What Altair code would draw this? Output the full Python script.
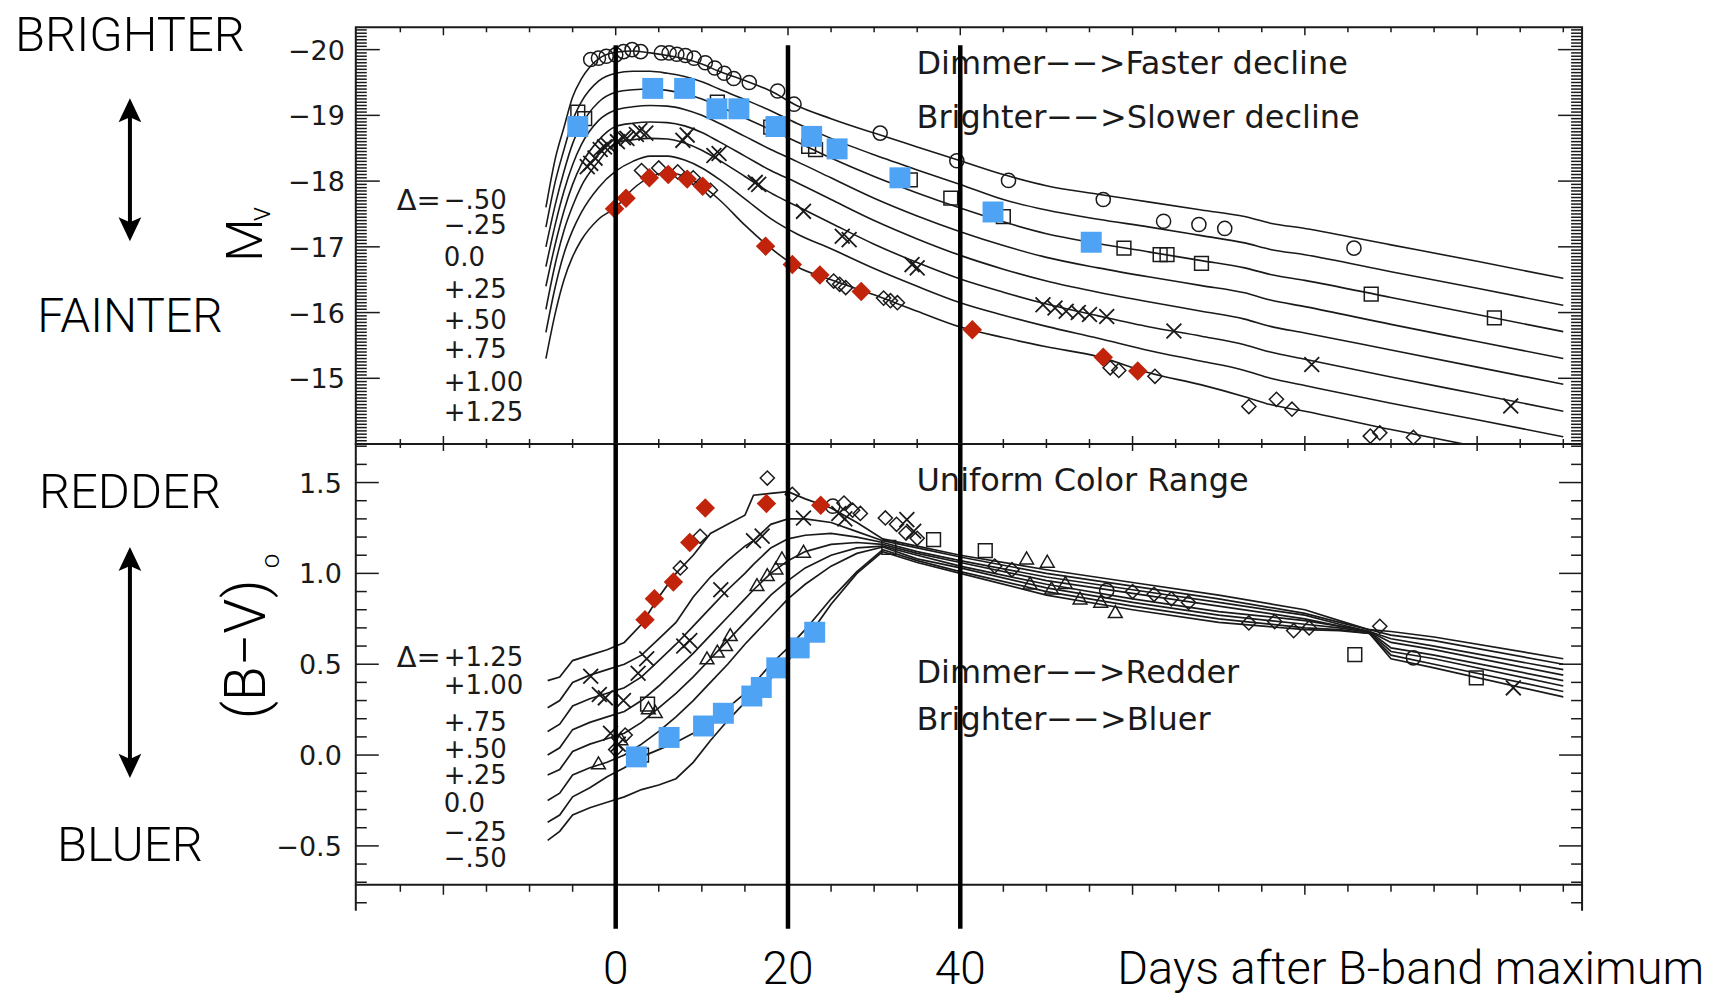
import altair as alt
import numpy as np
import pandas as pd

# ------------------------------------------------------------------ data
# Upper panel: V-band template light curves M_V(t), one per Delta
UP_DAYS = [-8.1, -7, -6, -5, -4, -2, 0, 2, 4, 6, 8, 10, 12, 15, 18, 21, 25, 30, 35, 40,
           45, 50, 56, 62, 68, 73, 76, 80, 90, 100, 110]
UP_M_DM050 = [-17.6, -18.35, -18.82, -19.28, -19.55, -19.86, -19.96, -19.98, -19.95, -19.91,
              -19.86, -19.78, -19.67, -19.53, -19.37, -19.15, -18.95, -18.73, -18.52, -18.31,
              -18.1, -17.93, -17.8, -17.68, -17.56, -17.46, -17.36, -17.28, -17.03, -16.78, -16.52]
UP_M_DM025 = [-17.3, -18.0, -18.48, -18.92, -19.2, -19.52, -19.64, -19.67, -19.67, -19.64,
              -19.59, -19.51, -19.4, -19.24, -19.07, -18.88, -18.65, -18.4, -18.17, -17.95,
              -17.72, -17.56, -17.42, -17.3, -17.17, -17.06, -16.96, -16.88, -16.62, -16.37, -16.11]
UP_M_D000 = [-17.0, -17.65, -18.15, -18.57, -18.85, -19.2, -19.35, -19.39, -19.4, -19.38,
             -19.33, -19.25, -19.14, -18.96, -18.78, -18.6, -18.35, -18.07, -17.82, -17.59,
             -17.38, -17.2, -17.05, -16.92, -16.79, -16.68, -16.58, -16.49, -16.23, -15.97, -15.71]
UP_M_DP025 = [-16.7, -17.35, -17.85, -18.25, -18.55, -18.92, -19.08, -19.13, -19.15, -19.14,
              -19.09, -19.0, -18.88, -18.68, -18.48, -18.3, -18.05, -17.74, -17.47, -17.23,
              -17.02, -16.84, -16.68, -16.54, -16.41, -16.3, -16.19, -16.09, -15.82, -15.56, -15.3]
UP_M_DP050 = [-16.4, -17.05, -17.55, -17.95, -18.25, -18.62, -18.83, -18.88, -18.9, -18.89,
              -18.84, -18.74, -18.6, -18.38, -18.16, -17.98, -17.72, -17.4, -17.12, -16.87,
              -16.66, -16.48, -16.31, -16.16, -16.02, -15.9, -15.79, -15.69, -15.43, -15.17, -14.91]
UP_M_DP075 = [-16.05, -16.75, -17.25, -17.62, -17.92, -18.3, -18.58, -18.63, -18.65, -18.64,
              -18.58, -18.47, -18.32, -18.07, -17.82, -17.62, -17.36, -17.04, -16.76, -16.51,
              -16.31, -16.13, -15.95, -15.78, -15.64, -15.51, -15.4, -15.29, -15.02, -14.76, -14.5]
UP_M_DP100 = [-15.7, -16.4, -16.9, -17.25, -17.52, -17.9, -18.15, -18.3, -18.38, -18.38,
              -18.32, -18.2, -18.03, -17.73, -17.43, -17.2, -16.97, -16.67, -16.4, -16.15,
              -15.96, -15.79, -15.61, -15.42, -15.26, -15.12, -15.0, -14.89, -14.62, -14.37, -14.11]
UP_M_DP125 = [-15.3, -16.0, -16.5, -16.85, -17.1, -17.42, -17.6, -17.88, -18.06, -18.13,
              -18.07, -17.93, -17.72, -17.33, -16.98, -16.7, -16.5, -16.27, -16.02, -15.78,
              -15.62, -15.48, -15.33, -15.08, -14.9, -14.72, -14.6, -14.5, -14.22, -13.96, -13.71]

UP_CIRC_D = [-2.9, -2.0, -1.1, 0.0, 0.9, 1.9, 2.9, 5.3, 6.2, 7.1, 8.1, 9.1, 10.4, 11.5, 12.6,
             13.7, 15.5, 18.8, 20.7, 30.7, 39.6, 45.6, 56.6, 63.6, 67.7, 70.7, 85.7]
UP_CIRC_M = [-19.85, -19.87, -19.9, -19.92, -19.97, -20.0, -19.97, -19.95, -19.95, -19.93, -19.91,
             -19.87, -19.8, -19.72, -19.64, -19.56, -19.5, -19.37, -19.17, -18.73, -18.31, -18.01,
             -17.72, -17.39, -17.34, -17.28, -16.98]
UP_SQ_D = [-4.4, -3.6, 4.2, 8.2, 11.8, 14.5, 18.0, 22.4, 23.2, 34.2, 38.9, 45.0, 55.1, 59.0,
           63.2, 64.0, 68.0, 87.7, 102.0]
UP_SQ_M = [-19.05, -18.95, -19.45, -19.45, -19.2, -19.12, -18.82, -18.53, -18.48, -18.02,
           -17.74, -17.46, -17.09, -16.98, -16.88, -16.88, -16.75, -16.28, -15.92]
UP_X_D = [-3.3, -2.9, -2.4, -1.8, -1.3, -0.9, 0.2, 0.9, 1.3, 2.4, 2.8, 3.5, 7.8, 8.3, 11.4,
          12.0, 16.2, 16.6, 21.8, 26.3, 27.1, 34.4, 35.0, 49.6, 51.0, 52.3, 53.7, 55.0, 57.0,
          64.8, 80.8, 103.9]
UP_X_M = [-18.22, -18.27, -18.35, -18.48, -18.52, -18.55, -18.6, -18.66, -18.65, -18.71,
          -18.77, -18.73, -18.62, -18.7, -18.39, -18.42, -17.98, -17.95, -17.54, -17.16,
          -17.11, -16.73, -16.68, -16.12, -16.07, -16.02, -16.0, -15.97, -15.94, -15.72,
          -15.21, -14.58]
UP_DIA_D = [3.0, 5.0, 7.2, 9.0, 11.0, 25.3, 26.0, 26.7, 31.1, 31.9, 32.7, 57.4, 58.4, 62.6,
            73.5, 76.7, 78.5, 87.6, 88.7, 92.6]
UP_DIA_M = [-18.16, -18.2, -18.14, -18.05, -17.86, -16.48, -16.43, -16.38, -16.22, -16.18,
            -16.15, -15.16, -15.12, -15.03, -14.57, -14.68, -14.53, -14.12, -14.17, -14.1]
UP_BLUE_D = [-4.4, 4.3, 8.0, 11.75, 14.3, 18.6, 22.75, 25.7, 33.0, 43.8, 55.2]
UP_BLUE_M = [-18.83, -19.41, -19.41, -19.1, -19.1, -18.83, -18.68, -18.49, -18.05, -17.53, -17.07]
UP_RED_D = [-0.13, 1.2, 3.9, 6.1, 8.3, 10.1, 17.4, 20.5, 23.7, 28.5, 41.4, 56.6, 60.6]
UP_RED_M = [-17.58, -17.74, -18.05, -18.1, -18.03, -17.92, -17.01, -16.73, -16.57, -16.32,
            -15.74, -15.32, -15.11]

# Lower panel: (B-V)_0 colour curves, one per Delta
LO_DAYS = [-7.9, -6.5, -5, -3, -1, 1, 3, 5, 7, 9, 11, 13, 15, 16, 18, 20, 22, 25, 28, 31,
           35, 40, 50, 60, 70, 80, 84, 87.5, 90, 95, 110]
LO_C_DM050 = [-0.47, -0.42, -0.33, -0.29, -0.26, -0.23, -0.19, -0.165, -0.13, -0.04, 0.08, 0.19,
              0.29, 0.33, 0.42, 0.52, 0.63, 0.83, 1.0, 1.12, 1.06, 1.00, 0.88, 0.80, 0.73, 0.69,
              0.685, 0.67, 0.53, 0.48, 0.32]
LO_C_DM025 = [-0.37, -0.33, -0.23, -0.18, -0.12, -0.07, -0.01, 0.03, 0.07, 0.12, 0.18, 0.26,
              0.34, 0.39, 0.50, 0.59, 0.69, 0.86, 1.01, 1.13, 1.07, 1.01, 0.90, 0.82, 0.75, 0.70,
              0.69, 0.67, 0.55, 0.50, 0.35]
LO_C_D000 = [-0.25, -0.21, -0.11, -0.07, -0.04, 0.0, 0.06, 0.13, 0.21, 0.30, 0.40, 0.50, 0.61,
             0.66, 0.76, 0.86, 0.94, 1.04, 1.11, 1.145, 1.08, 1.03, 0.92, 0.84, 0.77, 0.72, 0.70,
             0.675, 0.57, 0.53, 0.38]
LO_C_DP025 = [-0.11, -0.08, 0.02, 0.06, 0.09, 0.12, 0.18, 0.26, 0.34, 0.43, 0.53, 0.63, 0.73,
              0.78, 0.88, 0.96, 1.03, 1.10, 1.14, 1.15, 1.10, 1.04, 0.94, 0.86, 0.79, 0.74, 0.71,
              0.68, 0.59, 0.55, 0.41]
LO_C_DP050 = [0.0, 0.04, 0.14, 0.18, 0.21, 0.24, 0.30, 0.38, 0.47, 0.56, 0.66, 0.76, 0.86, 0.91,
              1.0, 1.07, 1.12, 1.16, 1.17, 1.16, 1.11, 1.06, 0.96, 0.89, 0.82, 0.75, 0.71, 0.68,
              0.62, 0.58, 0.44]
LO_C_DP075 = [0.13, 0.17, 0.27, 0.31, 0.34, 0.37, 0.43, 0.52, 0.61, 0.71, 0.81, 0.91, 1.0, 1.05,
              1.14, 1.19, 1.21, 1.22, 1.20, 1.17, 1.12, 1.07, 0.98, 0.91, 0.84, 0.77, 0.72, 0.68,
              0.64, 0.60, 0.47]
LO_C_DP100 = [0.26, 0.30, 0.40, 0.44, 0.47, 0.50, 0.55, 0.64, 0.73, 0.87, 0.98, 1.07, 1.15, 1.18,
              1.27, 1.30, 1.30, 1.28, 1.23, 1.18, 1.14, 1.09, 1.00, 0.93, 0.86, 0.78, 0.73, 0.69,
              0.66, 0.63, 0.50]
LO_C_DP125 = [0.41, 0.43, 0.52, 0.55, 0.58, 0.62, 0.72, 0.87, 1.0, 1.10, 1.22, 1.27, 1.32, 1.43,
              1.44, 1.45, 1.41, 1.36, 1.28, 1.19, 1.15, 1.10, 1.02, 0.95, 0.88, 0.80, 0.74, 0.69,
              0.68, 0.65, 0.53]

LO_X_D = [-2.9, -1.9, -1.2, -0.6, 0.3, 0.9, 2.6, 3.6, 7.9, 8.6, 12.2, 16.0, 17.0, 21.8, 25.9,
          26.6, 33.8, 34.6, 104.2]
LO_X_V = [0.434, 0.333, 0.315, 0.12, 0.06, 0.3, 0.45, 0.53, 0.60, 0.63, 0.91, 1.18, 1.205, 1.305,
          1.33, 1.30, 1.296, 1.232, 0.37]
LO_TRI_D = [-2.0, 0.6, 3.8, 4.6, 10.6, 11.8, 12.75, 13.3, 16.4, 17.6, 18.6, 19.3, 21.8, 47.7,
            48.1, 50.1, 50.6, 52.2, 53.9, 56.3, 58.0]
LO_TRI_V = [-0.043, 0.09, 0.26, 0.24, 0.535, 0.572, 0.608, 0.663, 0.938, 0.993, 1.03, 1.085,
            1.122, 1.085, 0.947, 1.067, 0.92, 0.95, 0.865, 0.847, 0.79]
LO_DIA_D = [0.0, 1.1, 7.5, 9.8, 17.6, 20.5, 26.5, 27.5, 28.4, 31.3, 32.6, 33.7, 35.0, 44.0, 46.0,
            60.0, 62.5, 64.5, 66.5, 73.5, 76.5, 78.7, 80.5, 88.7]
LO_DIA_V = [0.03, 0.11, 1.03, 1.204, 1.525, 1.435, 1.387, 1.348, 1.33, 1.305, 1.27, 1.222, 1.193,
            1.04, 1.02, 0.9, 0.885, 0.86, 0.84, 0.727, 0.735, 0.685, 0.70, 0.709]
LO_CIRC_D = [25.2, 57.0, 92.6]
LO_CIRC_V = [1.37, 0.905, 0.535]
LO_SQ_D = [3.0, 3.7, 31.7, 36.9, 42.9, 85.8, 99.9]
LO_SQ_V = [0.0, 0.28, 1.143, 1.186, 1.125, 0.553, 0.425]
LO_BLUE_D = [2.4, 6.2, 10.2, 12.5, 15.8, 16.9, 18.7, 21.3, 23.1]
LO_BLUE_V = [-0.01, 0.097, 0.16, 0.23, 0.325, 0.372, 0.48, 0.59, 0.676]
LO_RED_D = [3.4, 4.5, 6.7, 8.6, 10.4, 17.5, 23.8]
LO_RED_V = [0.745, 0.86, 0.953, 1.17, 1.36, 1.385, 1.375]

UP_DELTA_LABELS = ["\u2212.50", "\u2212.25", "0.0", "+.25", "+.50", "+.75", "+1.00", "+1.25"]
LO_DELTA_LABELS = ["+1.25", "+1.00", "+.75", "+.50", "+.25", "0.0", "\u2212.25", "\u2212.50"]
GUIDE_DAYS = [0, 20, 40]
GUIDE_LABELS = ["0", "20", "40"]
UP_Y_TICKS = [-20, -19, -18, -17, -16, -15]
UP_Y_LABELS = ["\u221220", "\u221219", "\u221218", "\u221217", "\u221216", "\u221215"]
LO_Y_TICKS = [-0.5, 0.0, 0.5, 1.0, 1.5]
LO_Y_LABELS = ["\u22120.5", "0.0", "0.5", "1.0", "1.5"]

# ------------------------------------------------------------------ style / layout
W, H1, H2 = 1227, 417, 441
XS = alt.Scale(domain=[-30.17, 112.18], nice=False, zero=False)
Y1S = alt.Scale(domain=[-20.34, -14.0], reverse=True, nice=False, zero=False)
Y2S = alt.Scale(domain=[-0.714, 1.712], nice=False, zero=False)
INK = "#1a1a1a"
IDL = "DejaVu Sans"
BIG = "Roboto"
BLUE = "#4FA3F4"
RED = "#C1230B"
XPATH = "M-1,-1L1,1M-1,1L1,-1"
HEAD_UP = "M0,-1L0.9,0.9L0,0.5L-0.9,0.9Z"
HEAD_DN = "M0,1L0.9,-0.9L0,-0.5L-0.9,-0.9Z"
ONE = pd.DataFrame({"a": [0]})

X_MAJOR = [-20, 0, 20, 40, 60, 80, 100]
X_MINOR = [d for d in range(-25, 111, 5) if d % 20 != 0]
UP_Y_MINOR = [round(v, 2) for v in np.arange(-20.30, -14.02, 0.05)
              if abs(v - round(v)) > 0.01]
LO_Y_MINOR = [round(v, 2) for v in np.arange(-0.7, 1.71, 0.1)
              if abs(v * 2 - round(v * 2)) > 0.01]


def curves_df(days, series, labels):
    rows = []
    for lab, vals in zip(labels, series):
        for d, v in zip(days, vals):
            rows.append({"day": d, "val": v, "delta": lab})
    return pd.DataFrame(rows)


def yticks(vals, scale, x0, x1):
    return alt.Chart(pd.DataFrame({"v": vals})).mark_rule(color=INK, strokeWidth=1.5).encode(
        y=alt.Y("v:Q", scale=scale, axis=None), x=alt.value(x0), x2=alt.value(x1))


def ylabels(vals, texts, scale, x):
    return alt.Chart(pd.DataFrame({"v": vals, "t": texts})).mark_text(
        font=IDL, fontSize=27, color=INK, align="right", baseline="middle", dy=2).encode(
        y=alt.Y("v:Q", scale=scale, axis=None), x=alt.value(x), text="t:N")


def xticks(vals, y0, y1):
    return alt.Chart(pd.DataFrame({"d": vals})).mark_rule(color=INK, strokeWidth=1.5).encode(
        x=alt.X("d:Q", scale=XS, axis=None), y=alt.value(y0), y2=alt.value(y1))


def markers(days, vals, yscale, shape, size, filled=False, color=INK, sw=1.5):
    df = pd.DataFrame({"day": days, "val": vals})
    if filled:
        m = alt.Chart(df).mark_point(shape=shape, size=size, filled=True, color=color,
                                     strokeWidth=0, opacity=1)
    else:
        m = alt.Chart(df).mark_point(shape=shape, size=size, filled=False, color=color,
                                     strokeWidth=sw, opacity=1)
    return m.encode(x=alt.X("day:Q", scale=XS, axis=None),
                    y=alt.Y("val:Q", scale=yscale, axis=None))


def label(text, x, y, size, font=IDL, align="left", angle=0, color=INK, weight="normal"):
    return alt.Chart(ONE).mark_text(text=text, font=font, fontSize=size, align=align,
                                    baseline="middle", angle=angle, color=color,
                                    fontWeight=weight).encode(x=alt.value(x), y=alt.value(y))


def arrow(x, ytop, ybot):
    shaft = alt.Chart(ONE).mark_rule(color="black", strokeWidth=4).encode(
        x=alt.value(x), y=alt.value(ytop + 14), y2=alt.value(ybot - 14))
    h1 = alt.Chart(ONE).mark_point(shape=HEAD_UP, size=640, filled=True, color="black",
                                   opacity=1, strokeWidth=0).encode(
        x=alt.value(x), y=alt.value(ytop + 12.6))
    h2 = alt.Chart(ONE).mark_point(shape=HEAD_DN, size=640, filled=True, color="black",
                                   opacity=1, strokeWidth=0).encode(
        x=alt.value(x), y=alt.value(ybot - 12.6))
    return [shaft, h1, h2]


def guides(y0, y1):
    return alt.Chart(pd.DataFrame({"day": GUIDE_DAYS})).mark_rule(
        color="black", strokeWidth=4.5).encode(
        x=alt.X("day:Q", scale=XS, axis=None), y=alt.value(y0), y2=alt.value(y1))


# ------------------------------------------------------------------ upper panel
up_df = curves_df(UP_DAYS, [UP_M_DM050, UP_M_DM025, UP_M_D000, UP_M_DP025, UP_M_DP050,
                            UP_M_DP075, UP_M_DP100, UP_M_DP125], UP_DELTA_LABELS)
up_curves = alt.Chart(up_df).mark_line(color=INK, strokeWidth=1.6, clip=True,
                                       interpolate="monotone").encode(
    x=alt.X("day:Q", scale=XS, axis=None),
    y=alt.Y("val:Q", scale=Y1S, axis=None),
    detail="delta:N")

up_layers = [
    up_curves,
    ylabels(UP_Y_TICKS, UP_Y_LABELS, Y1S, -11),
    yticks(UP_Y_MINOR, Y1S, 0, 11), yticks(UP_Y_TICKS, Y1S, 0, 24),
    yticks(UP_Y_MINOR, Y1S, W - 11, W), yticks(UP_Y_TICKS, Y1S, W - 24, W),
    xticks(X_MINOR, 0, 5), xticks(X_MAJOR, 0, 8),
    xticks(X_MINOR, H1 - 5, H1), xticks(X_MAJOR, H1 - 8, H1),
    markers(UP_CIRC_D, UP_CIRC_M, Y1S, "circle", 200),
    markers(UP_SQ_D, UP_SQ_M, Y1S, "square", 190),
    markers(UP_X_D, UP_X_M, Y1S, XPATH, 220, sw=1.8),
    markers(UP_DIA_D, UP_DIA_M, Y1S, "diamond", 200),
    markers(UP_BLUE_D, UP_BLUE_M, Y1S, "square", 440, filled=True, color=BLUE),
    markers(UP_RED_D, UP_RED_M, Y1S, "diamond", 380, filled=True, color=RED),
    label("Dimmer\u2212\u2212>Faster decline", 561, 37, 32),
    label("Brighter\u2212\u2212>Slower decline", 561, 91, 32),
    label("\u0394=", 85, 174, 29, align="right"),
]
for txt, yy in zip(UP_DELTA_LABELS, [174, 199, 231, 263, 294, 323, 356, 386]):
    up_layers.append(label(txt, 88, yy, 26))
up_layers += [
    label("BRIGHTER", -226, 9, 49, font=BIG, align="center", color="black", weight=300),
    label("FAINTER", -226, 290.5, 48, font=BIG, align="center", color="black", weight=300),
    label("M", -109, 213, 50, font=BIG, align="center", angle=270, color="black", weight=300),
    label("v", -95, 187, 30, font=BIG, align="center", angle=270, color="black", weight=300),
]
up_layers += arrow(-226, 71, 214)
up_layers.append(guides(18, H1))
up_layers.append(alt.Chart(ONE).mark_square(size=1, color="white", opacity=1).encode(
    x=alt.value(-346.5), y=alt.value(-17.5)))

upper = alt.layer(*up_layers).properties(width=W, height=H1)

# ------------------------------------------------------------------ lower panel
lo_df = curves_df(LO_DAYS, [LO_C_DM050, LO_C_DM025, LO_C_D000, LO_C_DP025, LO_C_DP050,
                            LO_C_DP075, LO_C_DP100, LO_C_DP125], UP_DELTA_LABELS)
lo_curves = alt.Chart(lo_df).mark_line(color=INK, strokeWidth=1.7, clip=True).encode(
    x=alt.X("day:Q", scale=XS, axis=None),
    y=alt.Y("val:Q", scale=Y2S, axis=None),
    detail="delta:N")

lo_layers = [
    lo_curves,
    ylabels(LO_Y_TICKS, LO_Y_LABELS, Y2S, -14),
    yticks(LO_Y_MINOR, Y2S, 0, 11), yticks(LO_Y_TICKS, Y2S, 0, 23),
    yticks(LO_Y_MINOR, Y2S, W - 11, W), yticks(LO_Y_TICKS, Y2S, W - 23, W),
    xticks(X_MINOR, 0, 4), xticks(X_MAJOR, 0, 7),
    xticks(X_MINOR, H2, H2 + 7), xticks(X_MAJOR, H2, H2 + 10),
    alt.Chart(ONE).mark_rule(color=INK, strokeWidth=2).encode(
        x=alt.value(0), y=alt.value(H2), y2=alt.value(H2 + 26)),
    alt.Chart(ONE).mark_rule(color=INK, strokeWidth=2).encode(
        x=alt.value(W), y=alt.value(H2), y2=alt.value(H2 + 26)),
    alt.Chart(ONE).mark_rule(color=INK, strokeWidth=1.5).encode(
        x=alt.value(0), x2=alt.value(11), y=alt.value(H2 + 18)),
    alt.Chart(ONE).mark_rule(color=INK, strokeWidth=1.5).encode(
        x=alt.value(W - 11), x2=alt.value(W), y=alt.value(H2 + 18)),
    markers(LO_CIRC_D, LO_CIRC_V, Y2S, "circle", 200),
    markers(LO_SQ_D, LO_SQ_V, Y2S, "square", 190),
    markers(LO_X_D, LO_X_V, Y2S, XPATH, 220, sw=1.8),
    markers(LO_TRI_D, LO_TRI_V, Y2S, "triangle-up", 190),
    markers(LO_DIA_D, LO_DIA_V, Y2S, "diamond", 200),
    markers(LO_BLUE_D, LO_BLUE_V, Y2S, "square", 440, filled=True, color=BLUE),
    markers(LO_RED_D, LO_RED_V, Y2S, "diamond", 380, filled=True, color=RED),
    label("Uniform Color Range", 561, 37, 32),
    label("Dimmer\u2212\u2212>Redder", 561, 229, 32),
    label("Brighter\u2212\u2212>Bluer", 561, 276, 32),
    label("\u0394=", 85, 214, 29, align="right"),
]
for txt, yy in zip(LO_DELTA_LABELS, [214, 242, 279, 306, 332, 360.5, 389, 415]):
    lo_layers.append(label(txt, 88, yy, 26))
lo_layers += [
    label("REDDER", -226, 49.5, 49, font=BIG, align="center", color="black", weight=300),
    label("BLUER", -226, 402.5, 49, font=BIG, align="center", color="black", weight=300),
    label("(B\u2212V)", -108, 205.5, 57, font=BIG, align="center", angle=270, color="black",
          weight=300),
    label("o", -85, 117, 26, font=BIG, align="center", angle=270, color="black", weight=300),
    label("Days after B-band maximum", 762, 526, 47, font=BIG, color="black", weight=300),
]
lo_layers += arrow(-226, 103, 334)
lo_layers.append(alt.Chart(pd.DataFrame({"day": GUIDE_DAYS, "t": GUIDE_LABELS})).mark_text(
    font=BIG, fontSize=46, fontWeight=300, color="black", baseline="middle").encode(
    x=alt.X("day:Q", scale=XS, axis=None), y=alt.value(526), text="t:N"))
lo_layers.append(guides(0, 485))

lower = alt.layer(*lo_layers).properties(width=W, height=H2)

chart = alt.vconcat(upper, lower, spacing=0, bounds="flush").properties(
    padding=0, background="white").configure_view(stroke=INK, strokeWidth=2)

chart.save("out.html", embed_options={"renderer": "svg", "actions": False})
